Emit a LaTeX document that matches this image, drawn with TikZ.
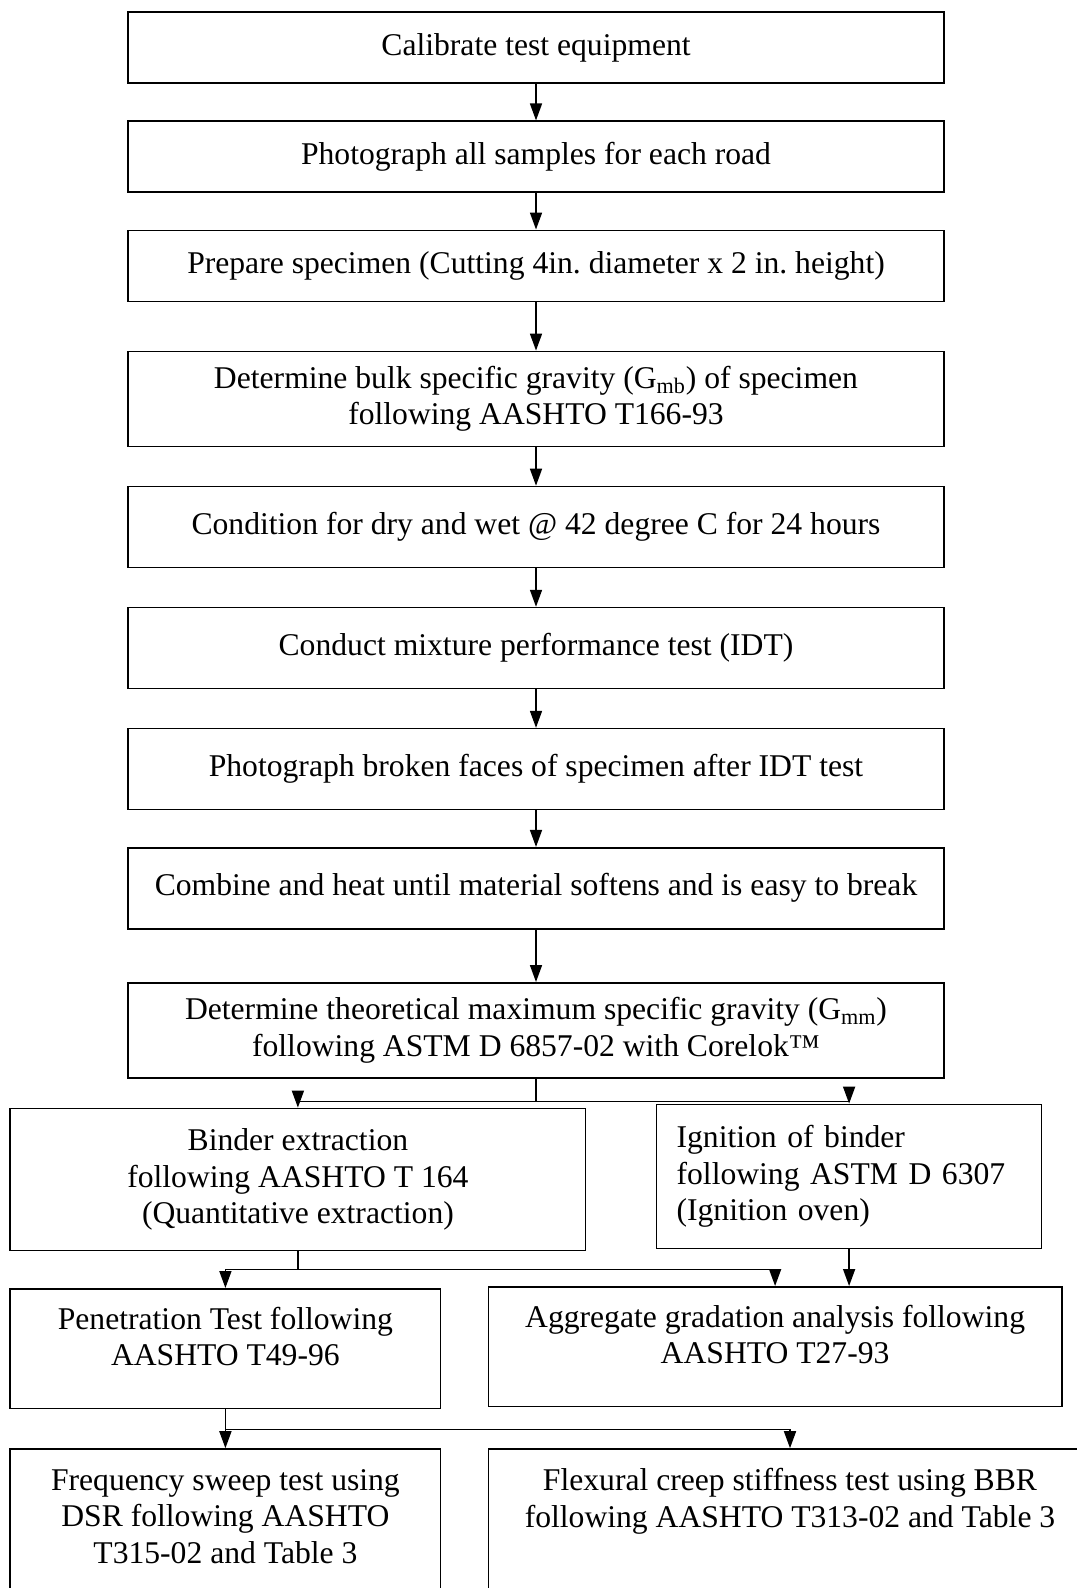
\documentclass[tikz,border=0pt]{standalone}
\usepackage{fontspec}
\setmainfont{Liberation Serif}
\usetikzlibrary{arrows.meta, positioning}

\begin{document}
\begin{tikzpicture}[
      node distance=0.73cm,
      box/.style={draw, line width=0.9pt, minimum width=16.33cm,
                  minimum height=1.42cm, align=center, inner sep=0pt,
                  font=\fontsize{18}{20.7}\selectfont\frenchspacing},
      arrow/.style={-{Triangle[length=0.34cm, width=0.24cm]}, line width=0.9pt} ]
    \useasboundingbox (0,0) rectangle (21.54,-31.76);
    % main column
    \node[box] (calib) at (10.72,-0.953) {Calibrate test equipment};
    \node[box, below=of calib] (photo) {Photograph all samples for each road};
    \node[box, below=of photo] (prep) {Prepare specimen (Cutting 4in. diameter x 2 in. height)};
    \node[box, minimum height=1.9cm, below=0.97cm of prep] (gmb)
        {Determine bulk specific gravity (G\textsubscript{mb}) of specimen\\ following AASHTO T166-93};
    \node[box, minimum height=1.62cm, below=0.77cm of gmb] (cond)
        {Condition for dry and wet @ 42 degree C for 24 hours};
    \node[box, minimum height=1.62cm, below=0.77cm of cond] (idt)
        {Conduct mixture performance test (IDT)};
    \node[box, minimum height=1.62cm, below=0.77cm of idt] (photoidt)
        {Photograph broken faces of specimen after IDT test};
    \node[box, minimum height=1.62cm, below=of photoidt] (heat)
        {Combine and heat until material softens and is easy to break};
    \node[box, minimum height=1.9cm, below=1.05cm of heat] (gmm)
        {Determine theoretical maximum specific gravity (G\textsubscript{mm})\\ following ASTM D 6857-02 with Corelok™};
    % binder branches
    \node[box, minimum width=11.51cm, minimum height=2.84cm] (binder) at (5.958,-23.588)
        {Binder extraction\\ following AASHTO T 164\\ (Quantitative extraction)};
    \node[box, minimum width=7.7cm, minimum height=2.88cm, align=left,
          text width=6.9cm, inner xsep=0.4cm] (ignition) at (16.982,-23.528)
        {Ignition of binder\\ following ASTM D 6307\\ (Ignition oven)};
    \node[box, minimum width=8.61cm, minimum height=2.39cm] (pen) at (4.508,-26.971)
        {Penetration Test following\\ AASHTO T49-96\rule[-0.5cm]{0pt}{0pt}};
    \node[box, minimum width=11.47cm, minimum height=2.39cm] (agg) at (15.502,-26.931)
        {Aggregate gradation analysis following\\ AASHTO T27-93\rule[-0.5cm]{0pt}{0pt}};
    \node[box, minimum width=8.61cm, minimum height=3.2cm] (dsr) at (4.508,-30.58)
        {Frequency sweep test using\\ DSR following AASHTO\\ T315-02 and Table 3\rule[-0.5cm]{0pt}{0pt}};
    \node[box, minimum width=12.06cm, minimum height=3.2cm] (bbr) at (15.8,-30.58)
        {Flexural creep stiffness test using BBR\\ following AASHTO T313-02 and Table 3\rule[-1.25cm]{0pt}{0pt}};

    \draw[arrow] (calib) -- (photo);
    \draw[arrow] (photo) -- (prep);
    \draw[arrow] (prep) -- (gmb);
    \draw[arrow] (gmb) -- (cond);
    \draw[arrow] (cond) -- (idt);
    \draw[arrow] (idt) -- (photoidt);
    \draw[arrow] (photoidt) -- (heat);
    \draw[arrow] (heat) -- (gmm);
    \draw[line width=0.9pt] (gmm.south) -- ++(0,-0.46) coordinate (split1);
    \draw[arrow] (split1) -| (binder.north);
    \draw[arrow] (split1) -| (ignition.north);
    \draw[line width=0.9pt] (binder.south) -- ++(0,-0.364) coordinate (split2);
    \draw[arrow] (split2) -| (pen.north);
    \draw[arrow] (split2) -| (agg.north);
    \draw[arrow] (ignition.south) -- (ignition.south |- agg.north);
    \draw[line width=0.9pt] (pen.south) -- ++(0,-0.406) coordinate (split3);
    \draw[arrow] (split3) -| (dsr.north);
    \draw[arrow] (split3) -| (bbr.north);
  \end{tikzpicture}
\end{document}
